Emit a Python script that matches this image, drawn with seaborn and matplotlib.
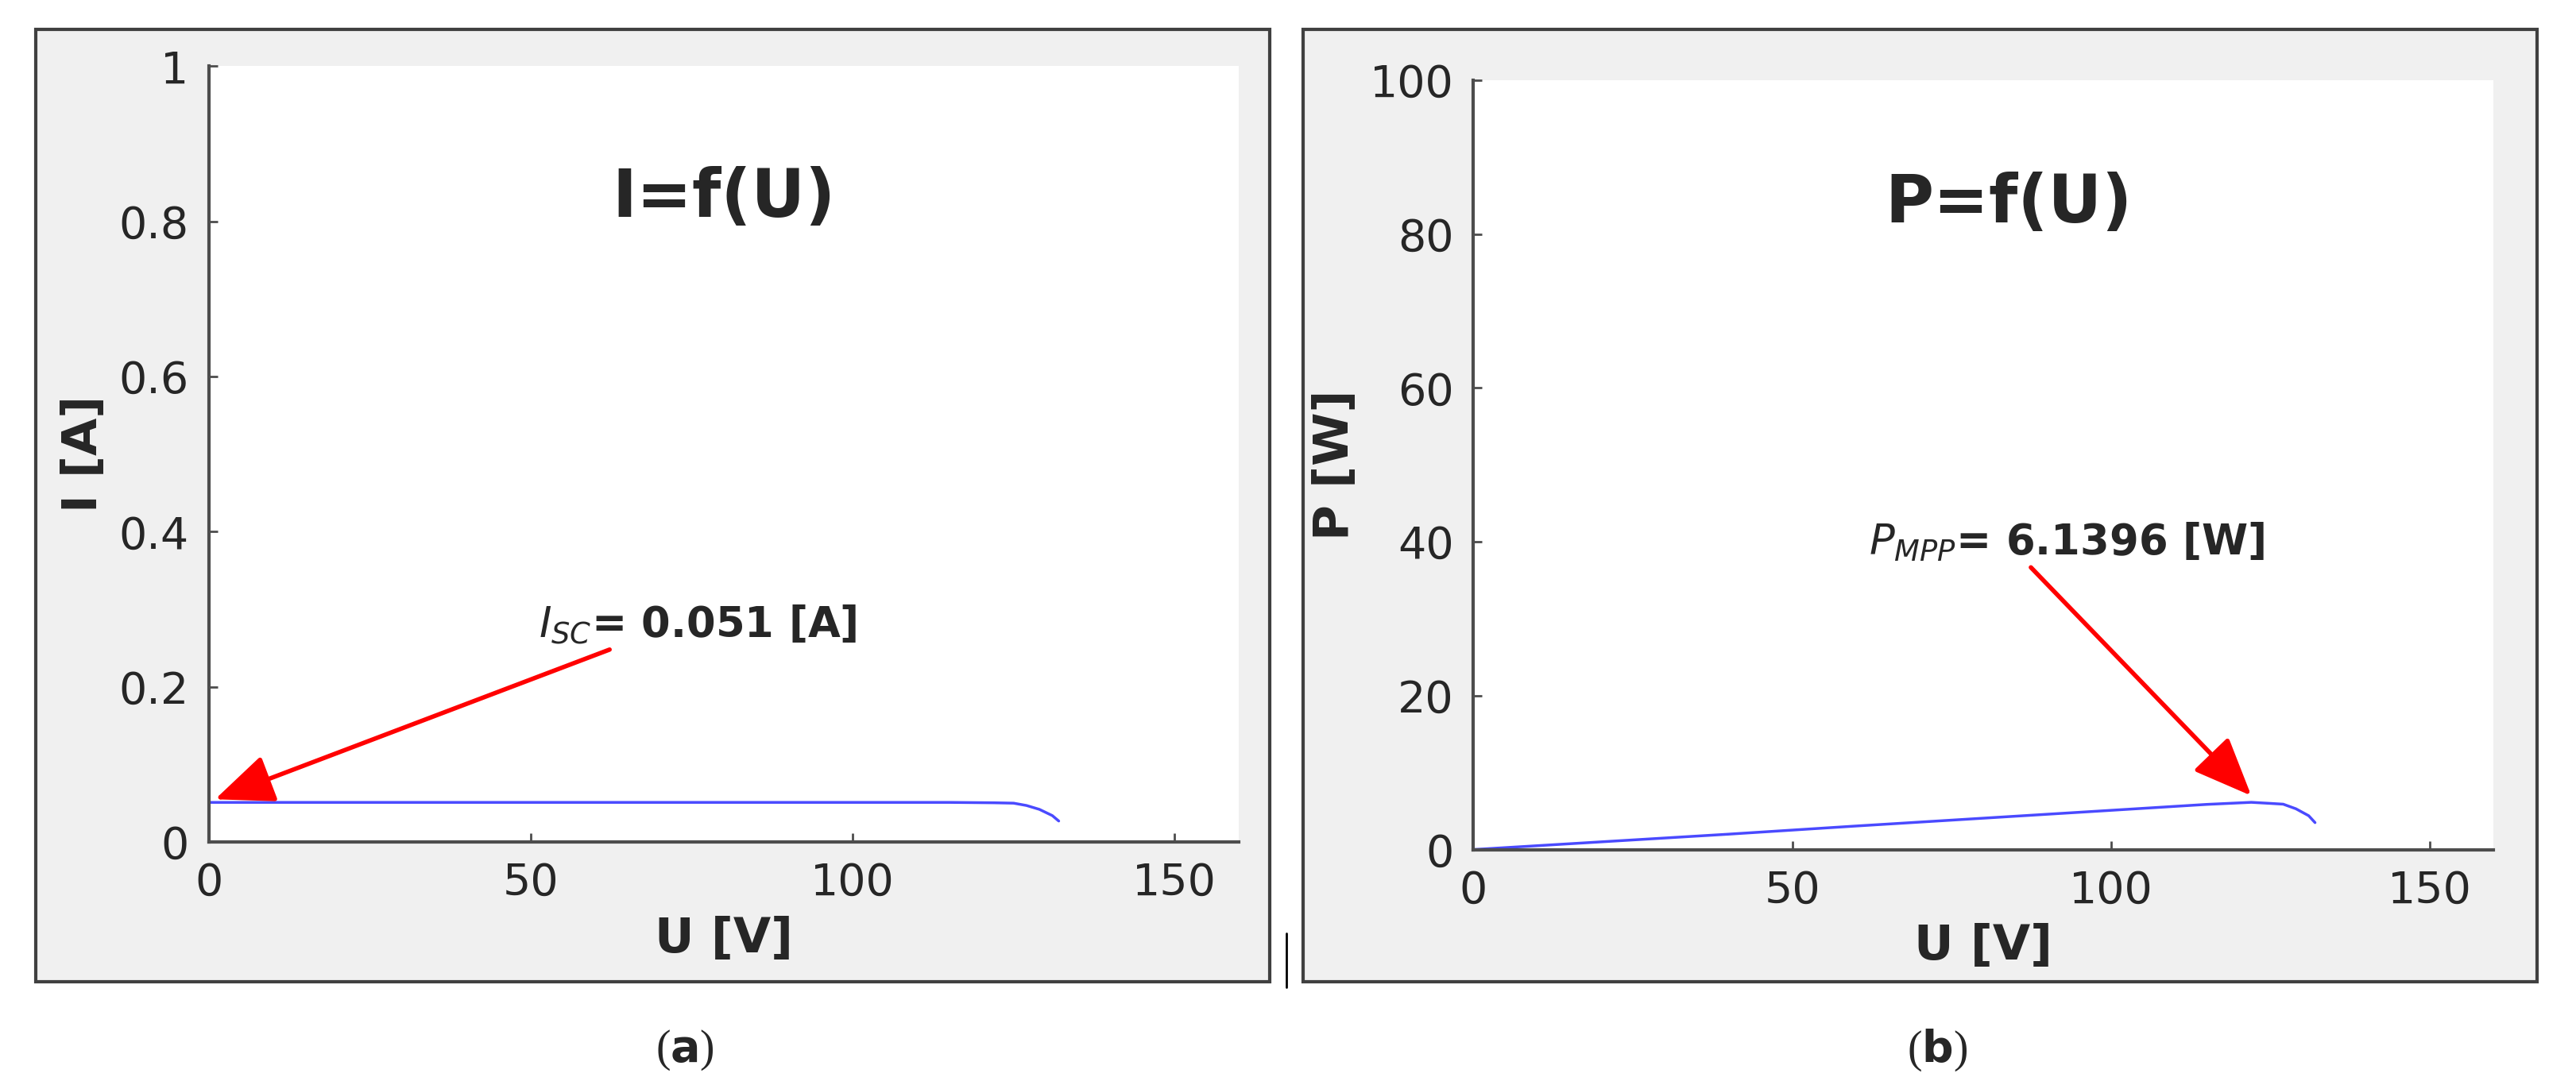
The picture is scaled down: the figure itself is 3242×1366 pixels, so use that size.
import matplotlib
matplotlib.use("Agg")
import matplotlib.pyplot as plt
import seaborn as sns
import pandas as pd
from matplotlib.patches import Rectangle

# voltage samples and measured curves
u_vals = [0, 10, 20, 40, 60, 80, 100, 115, 122, 125, 127, 129, 131, 132]
i_vals = [0.051, 0.051, 0.051, 0.051, 0.051, 0.051, 0.051, 0.051, 0.0505, 0.050, 0.047, 0.042, 0.034, 0.027]
p_vals = [0.0, 0.5, 1.0, 2.0, 3.06, 4.08, 5.1, 5.87, 6.14, 6.0, 5.9, 5.3, 4.4, 3.5]

sns.set_theme(style="white")
plt.rcParams['font.family'] = ['Liberation Sans Narrow', 'DejaVu Sans']

df = pd.DataFrame({"U": u_vals, "I": i_vals, "P": p_vals})

fig = plt.figure(figsize=(32.42, 13.66), dpi=100)
fig.patch.set_facecolor("white")

# grey panel frames (drawn behind the axes)
for x0 in (0.014, 0.506):
    fig.patches.append(Rectangle((x0, 0.095), 0.479, 0.878, transform=fig.transFigure,
                                 facecolor="#f0f0f0", edgecolor="#404040", lw=3, zorder=-10))

ax1 = fig.add_axes([0.081, 0.224, 0.400, 0.715])
ax2 = fig.add_axes([0.572, 0.217, 0.396, 0.709])

panels = [
    (ax1, "I", "I [A]", (0, 1), [0, 0.2, 0.4, 0.6, 0.8, 1], ["0", "0.2", "0.4", "0.6", "0.8", "1"], "I=f(U)", 80, 0.83),
    (ax2, "P", "P [W]", (0, 100), [0, 20, 40, 60, 80, 100], None, "P=f(U)", 84, 84),
]
for ax, col, ylab, ylim, yt, ytl, title, tx, ty in panels:
    ax.set_facecolor("white")
    sns.lineplot(data=df, x="U", y=col, ax=ax, color="#4a4aff", lw=2.5)
    ax.set_xlim(0, 160)
    ax.set_ylim(*ylim)
    ax.set_xticks([0, 50, 100, 150])
    ax.set_yticks(yt)
    if ytl:
        ax.set_yticklabels(ytl)
    ax.tick_params(labelsize=40, colors="#4d4d4d", direction="in", length=8, width=2,
                   bottom=True, left=True, pad=18)
    for t in ax.get_xticklabels() + ax.get_yticklabels():
        t.set_color("#262626")
    for s in ["top", "right"]:
        ax.spines[s].set_visible(False)
    for s in ["left", "bottom"]:
        ax.spines[s].set_color("#4d4d4d")
        ax.spines[s].set_linewidth(3)
    ax.set_xlabel("U [V]", fontsize=44, fontweight="bold", labelpad=10)
    ax.set_ylabel(ylab, fontsize=44, fontweight="bold", family=["DejaVu Sans"], labelpad=10)
    ax.text(tx, ty, title, fontsize=60, fontweight="bold", ha="center", va="center")

ax1.annotate(r"$I_{SC}$= 0.051 [A]", xy=(1, 0.055), xytext=(76, 0.28), fontsize=38,
             fontweight="bold", ha="center", va="center",
             arrowprops=dict(arrowstyle="-|>,head_length=1.2,head_width=0.5", color="red", lw=4,
                             shrinkB=0, relpos=(0.25, 0)))
ax2.annotate(r"$P_{MPP}$= 6.1396 [W]", xy=(122, 7), xytext=(93, 40), fontsize=38,
             fontweight="bold", ha="center", va="center",
             arrowprops=dict(arrowstyle="-|>,head_length=1.2,head_width=0.5", color="red", lw=4,
                             shrinkB=0, relpos=(0.4, 0)))

fig.text(0.266, 0.032, r"($\mathbf{a}$)", fontsize=40, family=["Liberation Serif"], ha="center", va="center")
fig.text(0.752, 0.032, r"($\mathbf{b}$)", fontsize=40, family=["Liberation Serif"], ha="center", va="center")
fig.add_artist(plt.Line2D([0.4995, 0.4995], [0.09, 0.14], color="black", lw=2))

fig.savefig("out.png", dpi=100)
